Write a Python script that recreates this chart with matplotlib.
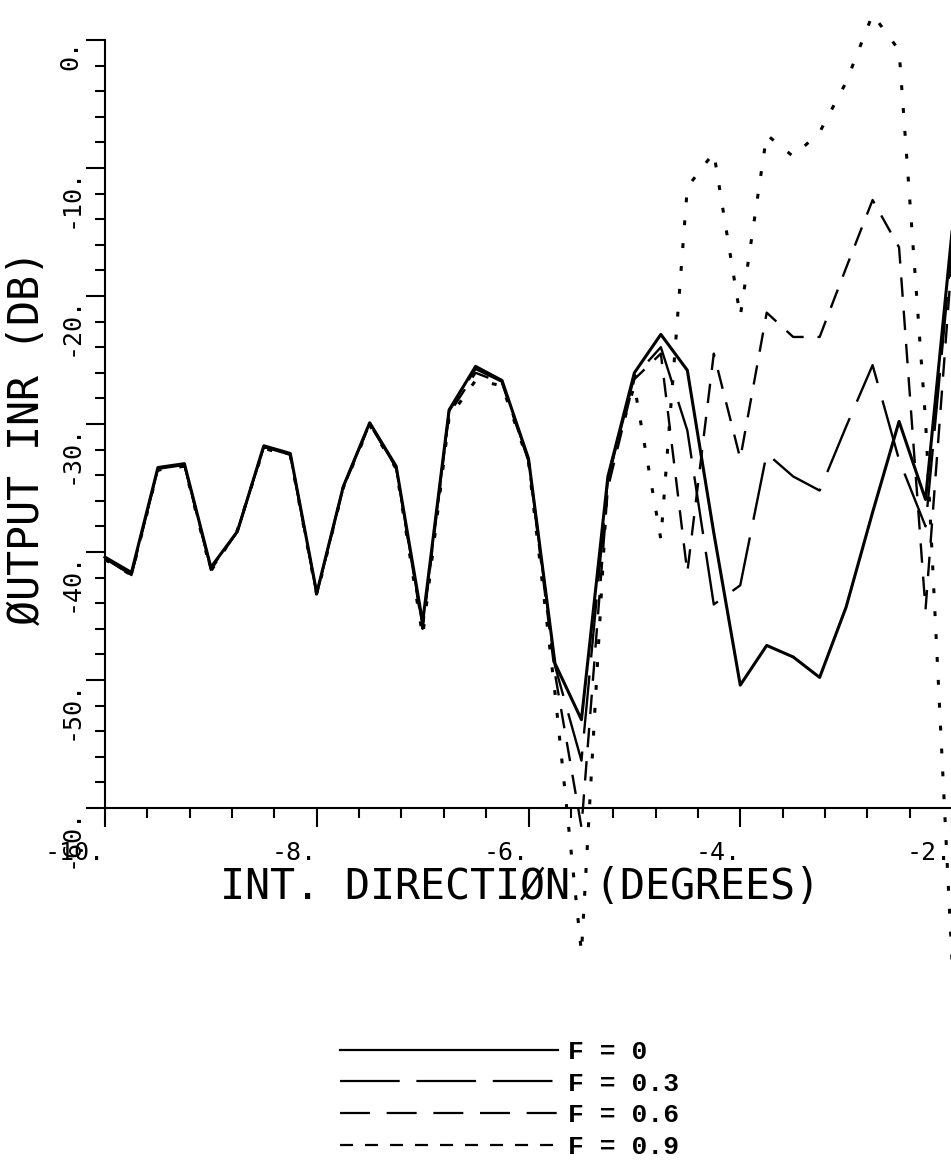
import matplotlib
matplotlib.use("Agg")
import matplotlib.pyplot as plt
from matplotlib.lines import Line2D
from matplotlib.ticker import MultipleLocator

plt.rcParams["lines.scale_dashes"] = False
plt.rcParams["font.family"] = "DejaVu Sans Mono"

# interference direction (degrees)
direction = [-10.0, -9.75, -9.5, -9.25, -9.0, -8.75, -8.5, -8.25, -8.0, -7.75, -7.5,
             -7.25, -7.0, -6.75, -6.5, -6.25, -6.0, -5.75, -5.5, -5.25, -5.0, -4.75,
             -4.5, -4.25, -4.0, -3.75, -3.5, -3.25, -3.0, -2.75, -2.5, -2.25, -2.0]

# output INR (dB) for each F
inr_f00 = [-40.4, -41.6, -33.4, -33.1, -41.2, -38.4, -31.7, -32.3, -43.2, -34.9, -29.9,
           -33.3, -45.5, -28.9, -25.5, -26.6, -32.7, -48.7, -53.1, -34.1, -26.0, -23.0,
           -25.8, -38.5, -50.4, -47.3, -48.2, -49.8, -44.3, -36.9, -29.8, -35.9, -15.0]
inr_f03 = [-40.5, -41.8, -33.5, -33.2, -41.3, -38.4, -31.8, -32.4, -43.3, -34.9, -30.0,
           -33.4, -45.8, -29.0, -25.7, -26.7, -32.8, -48.9, -56.3, -34.3, -26.3, -24.0,
           -30.5, -44.1, -42.6, -32.3, -34.1, -35.2, -30.2, -25.4, -32.8, -38.0, -16.0]
inr_f06 = [-40.5, -41.8, -33.5, -33.2, -41.4, -38.4, -31.8, -32.4, -43.3, -35.0, -30.0,
           -33.4, -46.0, -29.2, -26.0, -26.8, -32.9, -49.5, -61.5, -35.0, -26.5, -24.5,
           -41.6, -24.5, -32.7, -21.3, -23.2, -23.2, -17.8, -12.5, -16.2, -44.5, -17.0]
inr_f09 = [-40.6, -41.8, -33.6, -33.3, -41.5, -38.3, -31.9, -32.5, -43.4, -35.0, -30.1,
           -33.5, -46.6, -29.5, -26.6, -27.0, -33.0, -51.0, -71.3, -34.0, -27.0, -39.0,
           -11.5, -8.8, -21.6, -7.4, -9.1, -7.2, -3.3, 2.0, -0.8, -29.7, -72.0]

legend_labels = ["F = 0", "F = 0.3", "F = 0.6", "F = 0.9"]

x_ticks = [-10, -8, -6, -4, -2]
x_tick_labels = ["-10.", "-8.", "-6.", "-4.", "-2."]
y_ticks = [0, -10, -20, -30, -40, -50, -60]
y_tick_labels = ["0.", "-10.", "-20.", "-30.", "-40.", "-50.", "-60."]

fig = plt.figure(figsize=(9.51, 11.61), dpi=100)
ax = fig.add_axes([105 / 951, 353 / 1161, 847 / 951, 768 / 1161])

ax.plot(direction, inr_f00, color="black", lw=2.2, clip_on=False)
ax.plot(direction, inr_f03, color="black", lw=1.7, dashes=(42, 13), clip_on=False)
ax.plot(direction, inr_f06, color="black", lw=1.7, dashes=(14, 10), clip_on=False)
ax.plot(direction, inr_f09, color="black", lw=2.2, dashes=(3.5, 13), clip_on=False)

ax.set_xlim(-10, -2)
ax.set_ylim(-60, 0)
for side in ("top", "right"):
    ax.spines[side].set_visible(False)
for side in ("left", "bottom"):
    ax.spines[side].set_linewidth(1.5)

ax.set_xticks(x_ticks)
ax.set_xticklabels(x_tick_labels, fontsize=18, ha="right", va="top")
ax.set_yticks(y_ticks)
ax.set_yticklabels(y_tick_labels, fontsize=18, rotation=90, ha="right", va="top")
ax.xaxis.set_minor_locator(MultipleLocator(0.4))
ax.yaxis.set_minor_locator(MultipleLocator(2))
ax.tick_params(which="major", direction="out", length=14, width=1.5)
ax.tick_params(which="minor", direction="out", length=7.5, width=1.5)
ax.tick_params(axis="x", which="major", pad=10)
ax.tick_params(axis="y", which="major", pad=2)

ax.set_xlabel("INT. DIRECTIØN (DEGREES)", fontsize=30, va="center", ha="center")
ax.xaxis.set_label_coords(0.49, -0.103)
ax.set_ylabel("ØUTPUT INR (DB)", fontsize=30, va="center", ha="center")
ax.yaxis.set_label_coords(-0.092, 0.483)

# legend keys use their own dash lengths, as in the original key
handles = [
    Line2D([], [], color="black", lw=1.6),
    Line2D([], [], color="black", lw=1.6, dashes=(43, 12)),
    Line2D([], [], color="black", lw=1.6, dashes=(21.6, 12)),
    Line2D([], [], color="black", lw=1.6, dashes=(9.4, 8.6)),
]
fig.legend(handles, legend_labels, loc="upper left",
           bbox_to_anchor=(340 / 951, 1 - 1040 / 1161),
           frameon=False, handlelength=8.26, handletextpad=0.38,
           labelspacing=0.29, borderpad=0, borderaxespad=0,
           prop={"family": "Liberation Mono", "weight": "bold", "size": 19})

fig.savefig("out.png", dpi=100)
